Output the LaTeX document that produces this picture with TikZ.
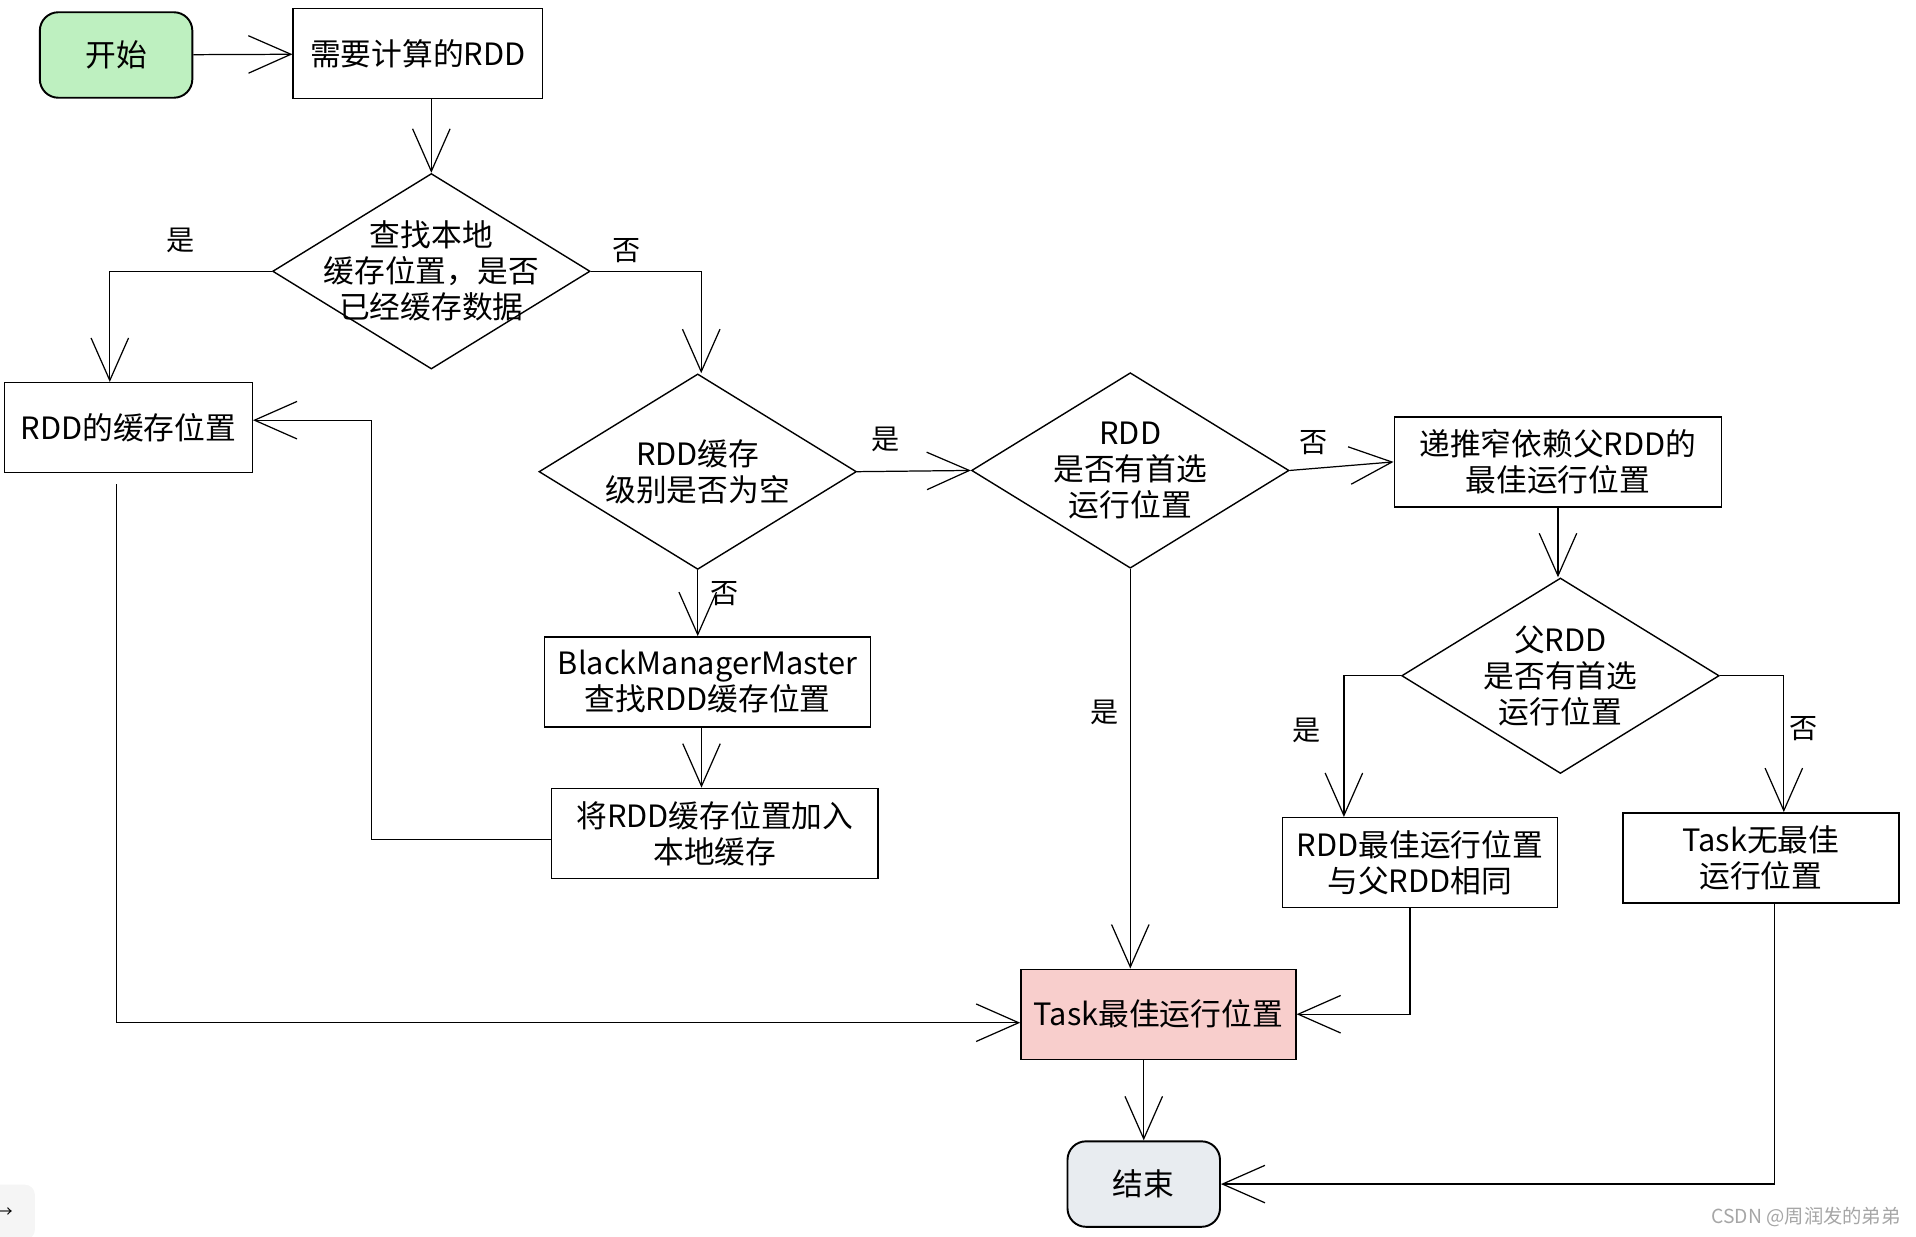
\documentclass[tikz,border=0pt]{standalone}
\usepackage{fontspec}
\setmainfont{Noto Sans CJK SC}
\usetikzlibrary{arrows.meta,shapes.geometric}
\definecolor{startgreen}{RGB}{190,240,192}
\definecolor{taskpink}{RGB}{248,206,204}
\definecolor{endgray}{RGB}{232,236,240}

\begin{document}
\begin{tikzpicture}[x=0.2444mm, y=-0.2444mm, font=\fontsize{17.5}{20.5}\selectfont,
  box/.style={draw, line width=0.8pt, minimum height=18mm, align=center, inner sep=1pt},
  terminal/.style={draw, line width=1.1pt, rounded corners=3.7mm, minimum width=30.5mm, minimum height=17.1mm},
  decision/.style={diamond, draw, line width=0.8pt, minimum width=63.5mm, minimum height=39.1mm, inner sep=0pt},
  arr/.style={line width=0.7pt, -{Straight Barb[length=8.5mm, width=7.5mm]}},
  yesno/.style={font=\fontsize{16}{18}\selectfont}]
\useasboundingbox (0,0) rectangle (1568,1012);
\node[terminal, fill=startgreen] (start) at (95,45) {开始};
\node[box, minimum width=49.9mm] (need) at (342,44) {需要计算的RDD};
\node[decision, label={[align=center]center:{查找本地\\缓存位置，是否\\已经缓存数据}}] (findlocal) at (353,222) {};
\node[box, minimum width=49.6mm] (cachepos) at (105,350) {RDD的缓存位置};
\node[decision, label={[align=center]center:{RDD缓存\\级别是否为空}}] (levelempty) at (571,386) {};
\node[box, minimum width=65.3mm] (bmm) at (579,558) {BlackManagerMaster\\查找RDD缓存位置};
\node[box, minimum width=65.3mm] (addlocal) at (585,682) {将RDD缓存位置加入\\本地缓存};
\node[decision, label={[align=center]center:{RDD\\是否有首选\\运行位置}}] (prefer) at (925,385) {};
\node[box, minimum width=65.5mm] (recur) at (1275,378) {递推窄依赖父RDD的\\最佳运行位置};
\node[decision, label={[align=center]center:{父RDD\\是否有首选\\运行位置}}] (parentpref) at (1277,553) {};
\node[box, minimum width=55mm] (same) at (1162,706) {RDD最佳运行位置\\与父RDD相同};
\node[box, minimum width=55.2mm] (nobest) at (1441,702) {Task无最佳\\运行位置};
\node[box, minimum width=55mm, fill=taskpink] (task) at (948,830) {Task最佳运行位置};
\node[terminal, fill=endgray] (stop) at (936,969) {结束};

\node[yesno] (yes1) at (148,197) {是};
\node[yesno] (no1) at (513,205) {否};
\node[yesno] (yes2) at (725,360) {是};
\node[yesno] (no2) at (593,486) {否};
\node[yesno] (yes3) at (904,583) {是};
\node[yesno] (no3) at (1075,362) {否};
\node[yesno] (yes4) at (1069,598) {是};
\node[yesno] (no4) at (1476,596) {否};

\draw[arr] (start) -- (need);
\draw[arr] (findlocal.north |- need.south) -- (findlocal.north);
\draw[arr] (findlocal.west) -| ([xshift=-3.7mm]cachepos.north);
\draw[arr] (findlocal.east) -| ([xshift=0.7mm]levelempty.north);
\draw[arr] (levelempty.east) -- (prefer.west);
\draw[arr] (levelempty.south) -- (levelempty.south |- bmm.north);
\draw[arr] ([xshift=-1.2mm]bmm.south) -- ([xshift=-1.2mm]bmm.south |- addlocal.north);
\draw[arr] ([yshift=-1.2mm]addlocal.west) -- ++(-147,0) |- ([yshift=1.5mm]cachepos.east);
\draw[arr] ([xshift=-2.4mm,yshift=-2.2mm]cachepos.south) |- ([yshift=-1.7mm]task.west);
\draw[arr] (prefer.south) -- (prefer.south |- task.north);
\draw[arr] (prefer.east) -- (recur.west);
\draw[arr] (recur.south) -- (recur.south |- parentpref.north);
\draw[arr] (parentpref.west) -| ([xshift=-15.2mm]same.north);
\draw[arr] (parentpref.east) -| ([xshift=4.6mm]nobest.north);
\draw[arr] ([xshift=-2mm]same.south) |- (task.east);
\draw[arr] ([xshift=2.7mm]nobest.south) |- (stop.east);
\draw[arr] (stop.north |- task.south) -- (stop.north);

\node[fill=gray!8, rounded corners=2mm, minimum width=12mm, minimum height=11mm, font=\fontsize{9}{10}\selectfont] (corner) at (4,992) {→};
\node[font=\fontsize{11}{13}\selectfont, text=gray!70] (mark) at (1478,996) {CSDN @周润发的弟弟};
\end{tikzpicture}
\end{document}
